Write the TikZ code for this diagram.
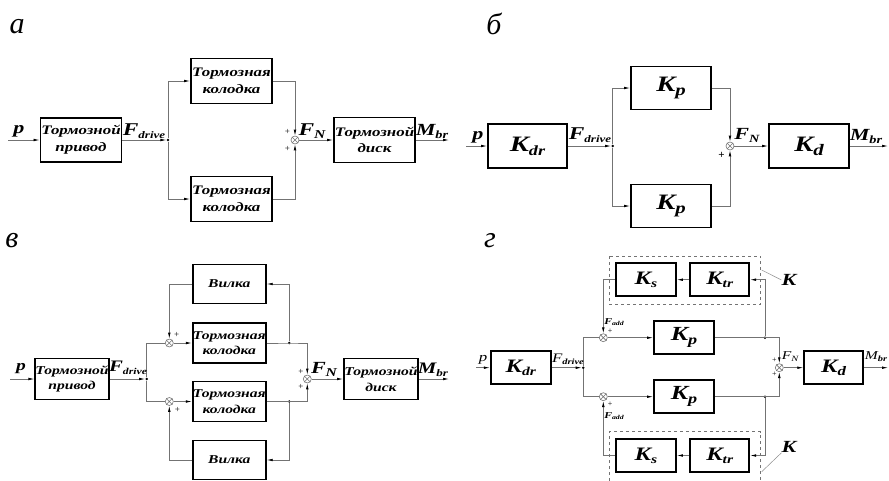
\documentclass[tikz,border=0pt]{standalone}
\usepackage{fontspec}
\setmainfont[FakeStretch=1.3]{Liberation Serif}
\newfontfamily\plainfont{Liberation Serif}
\usetikzlibrary{arrows.meta}
\newcommand\Sb[5]{{\fontsize{#1}{#1}\selectfont #2}\raisebox{#5}{\fontsize{#3}{#3}\selectfont #4}}
\newcommand\Xsum[2]{\node[sumn] (#1) at (#2) {};
  \draw[black!55,line width=.6pt] (#1.north west)--(#1.south east) (#1.north east)--(#1.south west);}
\begin{document}
\begin{tikzpicture}[x=1pt,y=-1pt,
 blk/.style={draw, line width=1.8pt, inner sep=0pt, align=center, font=\bfseries\itshape},
 wire/.style={draw=black!55, line width=0.7pt},
 arr/.style={-{Latex[length=6pt,width=2.6pt,color=black]}},
 sumn/.style={circle, draw=black!55, line width=0.6pt, minimum size=8pt, inner sep=0pt},
 jdot/.style={circle, fill=black, inner sep=0pt, minimum size=2.8pt},
 lbl/.style={inner sep=0pt, font=\bfseries\itshape},
 lbm/.style={inner sep=0pt, font=\itshape},
 pl/.style={inner sep=0pt, font=\plainfont\fontsize{9}{9}\selectfont},
 panel/.style={inner sep=0pt, font=\plainfont\itshape\fontsize{30}{30}\selectfont},
 tA/.style={font=\bfseries\itshape\fontsize{13}{16.7}\selectfont},
 tC/.style={font=\bfseries\itshape\fontsize{12}{15.5}\selectfont},
 dashbox/.style={draw=black!55, dashed, line width=0.6pt},
 leader/.style={draw=black!45, line width=0.5pt}]
\useasboundingbox (0,0) rectangle (889,480);

% ---------------- panel a ----------------
\node[panel] (la) at (17,27) {а};
\coordinate (a_in) at (8,140);
\node[blk,tA,minimum width=81pt,minimum height=44pt] (a_drv) at (81,140) {Тормозной\\привод};
\node[jdot] (a_j) at (168,140) {};
\node[blk,tA,minimum width=81pt,minimum height=45pt] (a_p1) at (231.5,81) {Тормозная\\колодка};
\node[blk,tA,minimum width=81pt,minimum height=45pt] (a_p2) at (231.5,199) {Тормозная\\колодка};
\Xsum{a_s}{295,140}
\node[blk,tA,minimum width=81pt,minimum height=45pt] (a_dk) at (374.5,140) {Тормозной\\диск};
\coordinate (a_out) at (449,140);
\draw[wire,arr] (a_in) -- (a_drv.west);
\draw[wire,arr] (a_drv.east) -- (a_j.west);
\draw[wire,arr] (a_j) |- (a_p1.west);
\draw[wire,arr] (a_j) |- (a_p2.west);
\draw[wire,arr] (a_p1.east) -| (a_s.north);
\draw[wire,arr] (a_p2.east) -| (a_s.south);
\draw[wire,arr] (a_s.east) -- (a_dk.west);
\draw[wire,arr] (a_dk.east) -- (a_out);
\node[lbl] (a_lp) at (19,131) {\fontsize{17}{17}\selectfont p};
\node[lbl] (a_lf) at (144,131) {\Sb{18}{F}{10}{drive}{-3pt}};
\node[lbl] (a_ln) at (312,131) {\Sb{18}{F}{12}{N}{-3pt}};
\node[lbl] (a_lm) at (432,131) {\Sb{17}{M}{11}{br}{-3pt}};
\node[pl] (a_pl1) at (287.5,132) {+};
\node[pl] (a_pl2) at (287.5,148.5) {+};

% ---------------- panel b ----------------
\node[panel] (lb) at (494,24) {б};
\coordinate (b_in) at (466,146);
\node[blk,minimum width=79pt,minimum height=44pt] (b_kdr) at (527.5,146) {\Sb{22}{K}{14}{dr}{-4pt}};
\node[jdot] (b_j) at (612.7,146) {};
\node[blk,minimum width=80pt,minimum height=43pt] (b_p1) at (671,88) {\Sb{22}{K}{16}{p}{-4pt}};
\node[blk,minimum width=80pt,minimum height=43pt] (b_p2) at (671,206) {\Sb{22}{K}{16}{p}{-4pt}};
\Xsum{b_s}{730,146}
\node[blk,minimum width=80pt,minimum height=44pt] (b_kd) at (809,146) {\Sb{22}{K}{16}{d}{-4pt}};
\coordinate (b_out) at (888,146);
\draw[wire,arr] (b_in) -- (b_kdr.west);
\draw[wire,arr] (b_kdr.east) -- (b_j.west);
\draw[wire,arr] (b_j) |- (b_p1.west);
\draw[wire,arr] (b_j) |- (b_p2.west);
\draw[wire,arr] (b_p1.east) -| (b_s.north);
\draw[wire,arr] (b_p2.east) -| (b_s.south);
\draw[wire,arr] (b_s.east) -- (b_kd.west);
\draw[wire,arr] (b_kd.east) -- (b_out);
\node[lbl] (b_lp) at (478,137) {\fontsize{17}{17}\selectfont p};
\node[lbl] (b_lf) at (590,135) {\Sb{18}{F}{10}{drive}{-3pt}};
\node[lbl] (b_ln) at (747,135) {\Sb{17}{F}{11}{N}{-3pt}};
\node[lbl] (b_lm) at (866,136) {\Sb{17}{M}{11}{br}{-3pt}};
\node[pl,font=\plainfont\bfseries\fontsize{11}{11}\selectfont] (b_pl) at (721.5,155) {+};

% ---------------- panel v ----------------
\node[panel] (lc) at (12,241) {в};
\coordinate (c_in) at (10,379);
\node[blk,tC,minimum width=73pt,minimum height=41pt] (c_drv) at (72,379) {Тормозной\\привод};
\node[jdot] (c_j) at (146.7,379) {};
\Xsum{c_s1}{169.3,343}
\Xsum{c_s2}{169.3,401.5}
\node[blk,tC,minimum width=73pt,minimum height=40pt] (c_p1) at (229.3,343) {Тормозная\\колодка};
\node[blk,tC,minimum width=73pt,minimum height=40pt] (c_p2) at (229.3,401.5) {Тормозная\\колодка};
\node[blk,tC,minimum width=73pt,minimum height=39pt] (c_v1) at (229.3,284) {Вилка};
\node[blk,tC,minimum width=73pt,minimum height=39pt] (c_v2) at (229.3,460) {Вилка};
\node[jdot] (c_r1) at (289.3,343) {};
\node[jdot] (c_r2) at (289.3,401.5) {};
\Xsum{c_s}{307.3,379}
\node[blk,tC,minimum width=74pt,minimum height=41pt] (c_dk) at (381,379) {Тормозной\\диск};
\coordinate (c_out) at (449,379);
\draw[wire,arr] (c_in) -- (c_drv.west);
\draw[wire,arr] (c_drv.east) -- (c_j.west);
\draw[wire] (c_j) |- (c_s1.west);
\draw[wire] (c_j) |- (c_s2.west);
\draw[wire,arr] (c_s1.east) -- (c_p1.west);
\draw[wire,arr] (c_s2.east) -- (c_p2.west);
\draw[wire,arr] (c_p1.east) -- (c_r1.center) -| (c_s.north);
\draw[wire,arr] (c_p2.east) -- (c_r2.center) -| (c_s.south);
\draw[wire,arr] (c_r1) |- (c_v1.east);
\draw[wire,arr] (c_r2) |- (c_v2.east);
\draw[wire,arr] (c_v1.west) -| (c_s1.north);
\draw[wire,arr] (c_v2.west) -| (c_s2.south);
\draw[wire,arr] (c_s.east) -- (c_dk.west);
\draw[wire,arr] (c_dk.east) -- (c_out);
\node[lbl] (c_lp) at (21,369) {\fontsize{15}{15}\selectfont p};
\node[lbl] (c_lf) at (128,368) {\Sb{16}{F}{9}{drive}{-2.5pt}};
\node[lbl] (c_ln) at (324,369) {\Sb{17}{F}{12}{N}{-3pt}};
\node[lbl] (c_lm) at (433,370) {\Sb{16}{M}{10}{br}{-3pt}};
\node[pl] (c_pl1) at (176.7,335) {+};
\node[pl] (c_pl2) at (177.3,409.5) {+};
\node[pl] (c_pl3) at (301,372) {+};
\node[pl] (c_pl4) at (301,387) {+};

% ---------------- panel g ----------------
\node[panel] (ld) at (490,241) {г};
\coordinate (d_in) at (476,367.7);
\node[blk,minimum width=60pt,minimum height=33pt] (d_kdr) at (520.7,367.7) {\Sb{19}{K}{12}{dr}{-3pt}};
\node[jdot] (d_j) at (583.3,367.7) {};
\Xsum{d_s1}{603.3,337.7}
\Xsum{d_s2}{603.3,396.7}
\node[blk,minimum width=60pt,minimum height=33pt] (d_p1) at (684,337.7) {\Sb{20}{K}{14}{p}{-4pt}};
\node[blk,minimum width=60pt,minimum height=33pt] (d_p2) at (684,396.7) {\Sb{20}{K}{14}{p}{-4pt}};
\node[blk,minimum width=60pt,minimum height=33pt] (d_ks1) at (646,279.7) {\Sb{19}{K}{12}{s}{-3pt}};
\node[blk,minimum width=59pt,minimum height=33pt] (d_kt1) at (719.7,279.7) {\Sb{19}{K}{12}{tr}{-3pt}};
\node[blk,minimum width=60pt,minimum height=33pt] (d_ks2) at (646,455.5) {\Sb{19}{K}{12}{s}{-3pt}};
\node[blk,minimum width=59pt,minimum height=33pt] (d_kt2) at (719.7,455.5) {\Sb{19}{K}{12}{tr}{-3pt}};
\node[jdot] (d_r1) at (765,337.7) {};
\node[jdot] (d_r2) at (765,396.7) {};
\Xsum{d_s}{779.3,367.7}
\node[blk,minimum width=59pt,minimum height=33pt] (d_kd) at (833.7,367.7) {\Sb{19}{K}{13}{d}{-3pt}};
\coordinate (d_out) at (888,367.7);
\draw[dashbox] (609.3,256) rectangle (760.7,304.3);
\draw[dashbox] (609.3,481) |- (760.7,431.7) -- (760.7,481);
\draw[wire,arr] (d_in) -- (d_kdr.west);
\draw[wire,arr] (d_kdr.east) -- (d_j.west);
\draw[wire] (d_j) |- (d_s1.west);
\draw[wire] (d_j) |- (d_s2.west);
\draw[wire,arr] (d_s1.east) -- (d_p1.west);
\draw[wire,arr] (d_s2.east) -- (d_p2.west);
\draw[wire,arr] (d_p1.east) -- (d_r1.center) -| (d_s.north);
\draw[wire,arr] (d_p2.east) -- (d_r2.center) -| (d_s.south);
\draw[wire,arr] (d_r1) |- (d_kt1.east);
\draw[wire,arr] (d_r2) |- (d_kt2.east);
\draw[wire,arr] (d_kt1.west) -- (d_ks1.east);
\draw[wire,arr] (d_kt2.west) -- (d_ks2.east);
\draw[wire,arr] (d_ks1.west) -| (d_s1.north);
\draw[wire,arr] (d_ks2.west) -| (d_s2.south);
\draw[wire,arr] (d_s.east) -- (d_kd.west);
\draw[wire,arr] (d_kd.east) -- (d_out);
\node[lbm] (d_lp) at (483,360) {\fontsize{13}{13}\selectfont p};
\node[lbm] (d_lf) at (568,359) {\Sb{13}{F}{8}{\bfseries drive}{-2pt}};
\node[lbl] (d_la1) at (614,322) {\Sb{9}{F}{6}{add}{-1.5pt}};
\node[lbl] (d_la2) at (614,416) {\Sb{9}{F}{6}{add}{-1.5pt}};
\node[pl,font=\plainfont\fontsize{8}{8}\selectfont] (d_pl1) at (610,331) {+};
\node[pl,font=\plainfont\fontsize{8}{8}\selectfont] (d_pl2) at (610,404) {+};
\node[pl,font=\plainfont\fontsize{8}{8}\selectfont] (d_pl3) at (774.3,360.5) {+};
\node[pl,font=\plainfont\fontsize{8}{8}\selectfont] (d_pl4) at (774.3,374) {+};
\node[lbm] (d_ln) at (790,357) {\Sb{12}{F}{8}{N}{-2pt}};
\node[lbm] (d_lm) at (876,357) {\Sb{12}{M}{8}{\bfseries br}{-2pt}};
\node[lbl] (d_K1) at (789,280) {\fontsize{17}{17}\selectfont K};
\node[lbl] (d_K2) at (789,447) {\fontsize{17}{17}\selectfont K};
\draw[leader] (761.7,270) -- (d_K1.west);
\draw[leader] (761.7,471.7) -- (d_K2.south west);
\end{tikzpicture}
\end{document}
